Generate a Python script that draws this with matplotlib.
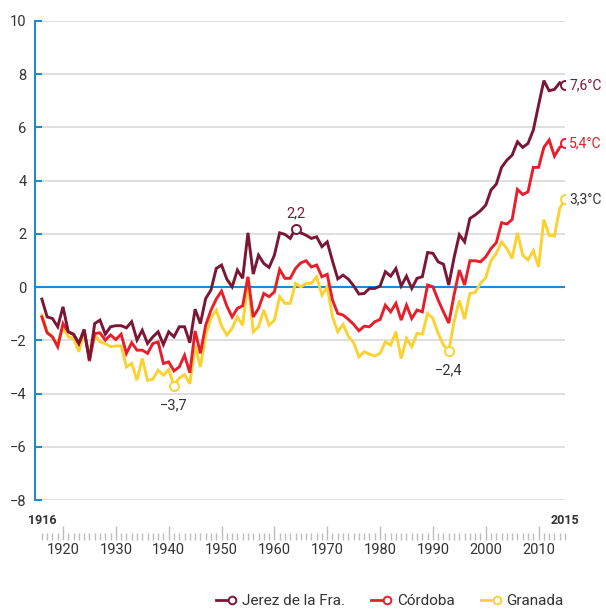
import numpy as np
import matplotlib.pyplot as plt
from matplotlib.lines import Line2D
from matplotlib.legend_handler import HandlerBase

plt.rcParams['font.family'] = ['Roboto', 'DejaVu Sans']

years = np.arange(1916, 2016)

jerez = [
    -0.45, -1.12, -1.18, -1.49, -0.74, -1.68, -1.78, -2.12, -1.59, -2.74,
    -1.37, -1.24, -1.77, -1.49, -1.45, -1.45, -1.53, -1.30, -1.99, -1.62,
    -2.12, -1.87, -1.68, -2.16, -1.68, -1.87, -1.49, -1.49, -2.09, -0.83,
    -1.37, -0.43, -0.11, 0.70, 0.83, 0.30, 0.01, 0.64, 0.33, 2.04,
    0.49, 1.20, 0.89, 0.74, 1.20, 2.04, 1.98, 1.83, 2.20, 2.04,
    1.95, 1.83, 1.89, 1.52, 1.70, 0.98, 0.31, 0.45, 0.30, 0.05,
    -0.26, -0.24, -0.05, -0.05, 0.04, 0.58, 0.41, 0.70, 0.04, 0.41,
    -0.05, 0.33, 0.39, 1.30, 1.27, 0.95, 0.86, 0.08, 1.10, 1.97,
    1.70, 2.58, 2.71, 2.87, 3.08, 3.65, 3.87, 4.50, 4.77, 4.96,
    5.46, 5.25, 5.40, 5.90, 6.84, 7.76, 7.38, 7.43, 7.68, 7.60,
]

cordoba = [
    -1.12, -1.72, -1.87, -2.24, -1.37, -1.68, -1.77, -2.12, -1.62, -2.78,
    -1.74, -1.72, -1.99, -1.80, -1.97, -1.77, -2.49, -2.09, -2.37, -2.37,
    -2.49, -2.12, -2.06, -2.87, -2.81, -3.15, -3.00, -2.56, -3.22, -1.65,
    -2.49, -1.43, -0.87, -0.45, -0.15, -0.71, -1.12, -0.80, -0.70, 0.39,
    -1.12, -0.80, -0.24, -0.36, -0.18, 0.66, 0.33, 0.33, 0.70, 0.91,
    0.99, 0.76, 0.83, 0.39, 0.48, -0.49, -0.99, -1.05, -1.21, -1.40,
    -1.64, -1.47, -1.49, -1.30, -1.22, -0.68, -0.93, -0.61, -1.24, -0.68,
    -1.18, -0.86, -0.93, 0.08, 0.01, -0.49, -0.93, -1.35, -0.30, 0.64,
    0.08, 0.99, 0.99, 0.95, 1.14, 1.45, 1.67, 2.42, 2.37, 2.54,
    3.67, 3.48, 3.58, 4.50, 4.50, 5.25, 5.53, 4.92, 5.25, 5.40,
]

granada = [
    -1.05, -1.68, -1.87, -2.18, -1.49, -1.87, -1.93, -2.43, -1.68, -2.62,
    -1.80, -2.06, -2.12, -2.24, -2.21, -2.21, -3.00, -2.87, -3.50, -2.68,
    -3.50, -3.46, -3.12, -3.31, -3.10, -3.70, -3.42, -3.29, -3.63, -2.21,
    -3.00, -1.80, -1.15, -0.86, -1.46, -1.80, -1.55, -1.12, -1.43, 0.26,
    -1.68, -1.49, -0.86, -1.43, -1.24, -0.36, -0.61, -0.61, 0.14, 0.01,
    0.14, 0.14, 0.39, -0.30, 0.01, -1.12, -1.68, -1.40, -1.85, -2.09,
    -2.62, -2.43, -2.52, -2.59, -2.49, -2.06, -2.18, -1.68, -2.68, -1.93,
    -2.24, -1.74, -1.77, -0.99, -1.18, -1.74, -2.18, -2.40, -1.30, -0.50,
    -1.20, -0.24, -0.20, 0.14, 0.35, 1.00, 1.27, 1.70, 1.45, 1.08,
    2.04, 1.20, 1.02, 1.37, 0.76, 2.54, 1.95, 1.92, 2.96, 3.30,
]

names = ['Jerez de la Fra.', 'Córdoba', 'Granada']
colors = ['#7b1734', '#e81f2a', '#fad232']
end_labels = ['7,6°C', '5,4°C', '3,3°C']
end_colors = ['#7b1734', '#e81f2a', '#333333']

# highlighted points: (series index, year, label)
marks = [(0, 1964, '2,2'), (2, 1941, '\u22123,7'), (2, 1993, '\u22122,4')]

BLUE = '#2389cc'
GRID = '#d9d9d9'
TEXT = '#333333'


class LineDotHandler(HandlerBase):
    def create_artists(self, legend, orig_handle, xdescent, ydescent,
                       width, height, fontsize, trans):
        y = height / 2 - ydescent
        c = orig_handle.get_color()
        x0, x1 = -xdescent, -xdescent + width
        line = Line2D([x0, x1 - 3], [y, y], color=c, lw=2, transform=trans)
        dot = Line2D([x1 - 2], [y], marker='o', ms=5.5, mfc='white',
                     mec=c, mew=1.4, transform=trans)
        return [line, dot]


fig = plt.figure(figsize=(6.06, 6.10), dpi=100)
ax = fig.add_axes([35 / 606, 1 - 500 / 610, 530 / 606, 479 / 610])

series = [jerez, cordoba, granada]
for vals, c in zip(series[::-1], colors[::-1]):
    ax.plot(years, vals, color=c, lw=2.1, solid_joinstyle='miter', zorder=3)

for vals, c, lab, tc in zip(series, colors, end_labels, end_colors):
    ax.plot(years[-1], vals[-1], 'o', ms=6.5, mfc='white', mec=c, mew=1.4, zorder=5)
    ax.annotate(lab, (years[-1], vals[-1]), xytext=(3, 0), textcoords='offset points',
                ha='left', va='center', fontsize=10, color=tc, annotation_clip=False)

for si, yr, lab in marks:
    v = series[si][yr - years[0]]
    ax.plot(yr, v, 'o', ms=6.5, mfc='white', mec=colors[si], mew=1.4, zorder=5)
    if v > 0:
        ax.annotate(lab, (yr, v), xytext=(0, 11), textcoords='offset points',
                    ha='center', va='center', fontsize=10.5, color=colors[si])
    else:
        ax.annotate(lab, (yr, v), xytext=(0, -14), textcoords='offset points',
                    ha='center', va='center', fontsize=10.5, color=TEXT,
                    bbox=dict(boxstyle='square,pad=0.15', fc='white', ec='none'))

ax.axhline(0, color=BLUE, lw=1.5, zorder=2)

ax.set_xlim(1914.7, 2015)
ax.set_ylim(-8, 10)
ax.set_yticks(np.arange(-8, 11, 2))
ax.yaxis.grid(True, color=GRID, lw=1.2)
ax.set_axisbelow(True)
ax.tick_params(axis='y', direction='in', length=5, width=1.5, color=BLUE,
               labelsize=10.5, labelcolor=TEXT, pad=6)

for s in ['top', 'right', 'bottom']:
    ax.spines[s].set_visible(False)
ax.spines['left'].set_color(BLUE)
ax.spines['left'].set_linewidth(1.5)

# year ruler under the plot
ax.spines['bottom'].set_position(('outward', 29))
ax.set_xticks(np.arange(1920, 2011, 10))
ax.set_xticks(years, minor=True)
ax.tick_params(axis='x', which='major', direction='in', length=10, width=1,
               color='#bdbdbd', labelsize=10.5, labelcolor=TEXT, pad=2)
ax.tick_params(axis='x', which='minor', direction='in', length=5, width=1,
               color='#bdbdbd')

for yr in (years[0], years[-1]):
    ax.annotate(str(yr), (yr, -8), xytext=(0, -15), textcoords='offset points',
                ha='center', va='center', fontsize=9, fontweight='bold',
                color=TEXT, annotation_clip=False)

handles = [Line2D([], [], color=c) for c in colors]
fig.legend(handles, names, handler_map={Line2D: LineDotHandler()},
           loc='lower right', bbox_to_anchor=(0.953, -0.02), ncol=3, frameon=False,
           fontsize=11, labelcolor=TEXT, handlelength=1.25, handletextpad=0.45,
           columnspacing=1.7)

fig.savefig('out.png', dpi=100)
